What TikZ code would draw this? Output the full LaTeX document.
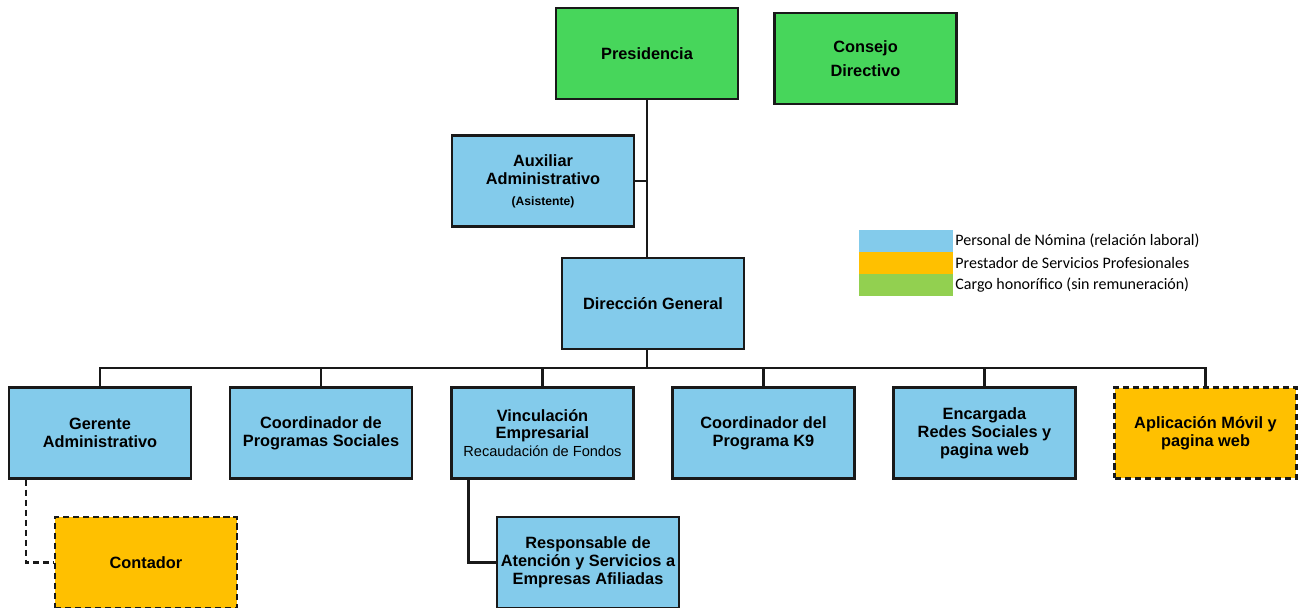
\documentclass[tikz,border=0pt]{standalone}
\usepackage{fontspec}
\setmainfont{Liberation Sans}
\newfontfamily\legendfont{Carlito}
\definecolor{nomina}{HTML}{83CBEB}
\definecolor{prestador}{HTML}{FFC000}
\definecolor{honor}{HTML}{47D65B}
\definecolor{honorlight}{HTML}{92D050}
\tikzset{
 puesto/.style={draw=black!90,line width=1.4pt,fill=nomina,minimum width=3.64cm,minimum height=1.82cm,
  align=center,inner sep=1pt,font=\fontsize{9.3}{10.2}\selectfont\bfseries},
 externo/.style={puesto,fill=prestador,dash pattern=on 3.5pt off 2.2pt},
 honorario/.style={puesto,fill=honor},
 linea/.style={line width=1.4pt,draw=black!90},
 muestra/.style={fill=#1,minimum width=1.88cm,minimum height=0.44cm,inner sep=0pt},
}
\begin{document}
\begin{tikzpicture}[x=0.02cm,y=-0.02cm]
\useasboundingbox (0,0) rectangle (1299,608);
\node[honorario] (pres) at (647,53.5) {Presidencia};
\node[honorario,font=\fontsize{9.3}{13.6}\selectfont\bfseries] (cons) at (865.5,58.5) {Consejo\\Directivo};
\node[puesto] (aux) at (543,181) {Auxiliar\\Administrativo\\[1.7pt]{\fontsize{6.9}{8}\selectfont(Asistente)}};
\node[puesto] (dir) at (653,303.5) {Dirección General};

\node[puesto] (ger) at (100,433) {Gerente\\Administrativo};
\node[puesto] (prog) at (321,433) {Coordinador de\\Programas Sociales};
\node[puesto] (vinc) at (542.5,433) {Vinculación\\Empresarial\\{\mdseries\fontsize{8.3}{10}\selectfont Recaudación de Fondos}};
\node[puesto] (k9) at (763.5,433) {Coordinador del\\Programa K9};
\node[puesto] (redes) at (984.5,433) {Encargada\\Redes Sociales y\\pagina web};
\node[externo] (app) at (1205.5,433) {Aplicación Móvil y\\pagina web};
\node[externo] (cont) at (146,562.5) {Contador};
\node[puesto] (resp) at (588,562.5) {Responsable de\\Atención y Servicios a\\Empresas Afiliadas};

\foreach \c/\t [count=\i] in {nomina/Personal de Nómina (relación laboral),
  prestador/Prestador de Servicios Profesionales,
  honorlight/Cargo honorífico (sin remuneración)}
{
 \node[muestra=\c] (sw\i) at (906,219+22*\i) {};
 \node[anchor=west,inner sep=1pt,font=\legendfont\fontsize{9.1}{10}\selectfont] (ley\i) at (sw\i.east) {\t};
}

\coordinate (bus) at (647,368);
\draw[linea] (pres.south) -- (pres.south |- dir.north);
\draw[linea] (aux.east) -- (aux.east -| pres.south);
\draw[linea] (pres.south |- dir.south) -- (pres.south |- bus);
\draw[linea] (ger.north) |- (bus) -| (app.north);
\foreach \n in {prog,vinc,k9,redes}
 \draw[linea] (\n.north) -- (\n.north |- bus);
\draw[linea,dash pattern=on 3.5pt off 2.2pt] ([xshift=0.36cm]ger.south west) |- (cont.west);
\draw[linea] ([xshift=0.36cm]vinc.south west) |- (resp.west);
\end{tikzpicture}
\end{document}
